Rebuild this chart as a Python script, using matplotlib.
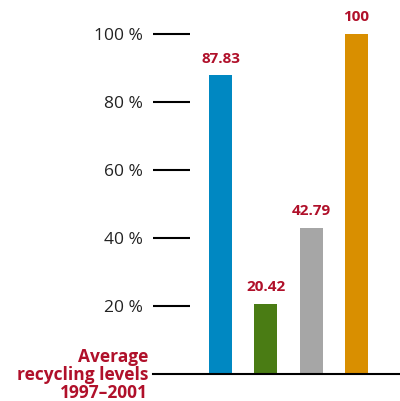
import numpy as np
import matplotlib
matplotlib.use("Agg")
import matplotlib.pyplot as plt

plt.rcParams['font.family'] = ['Open Sans', 'DejaVu Sans']

# data
values = [87.83, 20.42, 42.79, 100]
labels = ["87.83", "20.42", "42.79", "100"]
colors = ["#0088c2", "#4a7c14", "#a6a6a6", "#d98f00"]
yticks = [20, 40, 60, 80, 100]
ytick_labels = ["20 %", "40 %", "60 %", "80 %", "100 %"]

red = "#b0102a"
W, H = 400, 401

fig = plt.figure(figsize=(W / 100, H / 100), dpi=100)
ax = fig.add_axes([153 / W, 27.5 / H, 247 / W, 373.5 / H])

x = np.arange(len(values))
ax.bar(x, values, width=0.507, color=colors)

for xi, v, lab in zip(x, values, labels):
    ax.annotate(lab, (xi, v), xytext=(0, 7), textcoords="offset points",
                ha="center", va="bottom", color=red, fontsize=11,
                fontweight="bold")

ax.set_xlim(-1.49, 3.96)
ax.set_ylim(0, 110)
ax.set_yticks(yticks)
ax.set_yticklabels(ytick_labels)
ax.set_xticks([])

ax.tick_params(axis="y", direction="in", length=26.6, width=1.5,
               color="black", pad=7, labelsize=12.5, labelcolor="#222222")

for s in ["left", "top", "right"]:
    ax.spines[s].set_visible(False)
ax.spines["bottom"].set_linewidth(1.5)

fig.text(148 / W, (H - 375) / H, "Average\nrecycling levels\n1997\u20132001",
         ha="right", va="center", color=red, fontsize=12.5, fontweight="bold",
         linespacing=1.0)

fig.savefig("out.png", dpi=100)
